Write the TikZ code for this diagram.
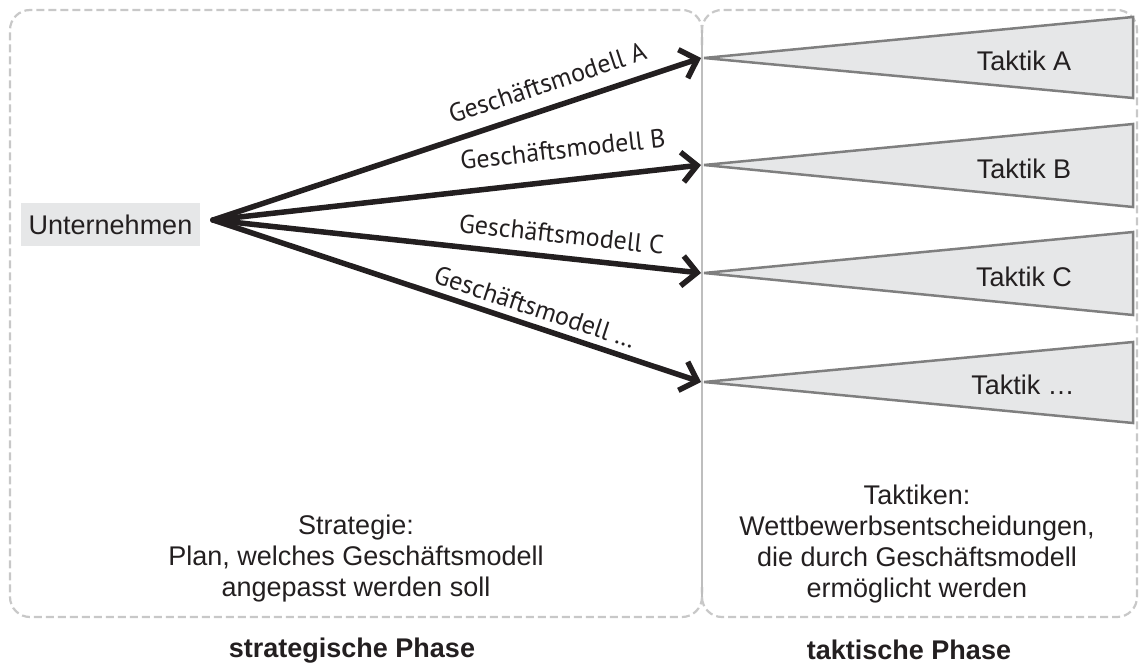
\documentclass[tikz,border=0pt]{standalone}
\usepackage{fontspec}
\setmainfont{Liberation Sans}
\newfontfamily\labfont{PT Sans}
\usetikzlibrary{arrows.meta}
\definecolor{boxgray}{HTML}{C8C8C8}
\definecolor{divgray}{HTML}{BEBEBE}
\definecolor{trifill}{HTML}{E6E7E8}
\definecolor{tristroke}{HTML}{7F7F7F}
\definecolor{txt}{HTML}{231F20}
\begin{document}
\begin{tikzpicture}[x=1pt,y=-1pt,
  phasebox/.style={draw=boxgray, line width=2.2pt, dash pattern=on 8pt off 4pt, rounded corners=20pt},
  divider/.style={draw=divgray, line width=2pt},
  tactic/.style={draw=tristroke, fill=trifill, line width=2.5pt, line join=miter},
  bm/.style={-{Straight Barb[length=15pt,width=30pt]}, line width=5.5pt, line cap=round, line join=round, draw=txt},
  bmlabel/.style={font=\labfont\fontsize{26}{30}\selectfont, text=txt, sloped, inner sep=0pt},
  plaintext/.style={font=\fontsize{27}{31}\selectfont, text=txt, align=center, inner sep=0pt},
  tlabel/.style={font=\fontsize{27}{31}\selectfont, text=txt, anchor=base, inner sep=0pt},
  phase/.style={font=\bfseries\fontsize{27}{31}\selectfont, text=txt, anchor=base, inner sep=0pt},
  firm/.style={fill=trifill, minimum width=179pt, minimum height=43pt, inner sep=0pt, font=\fontsize{27}{31}\selectfont, text=txt},
]
\useasboundingbox (0,0) rectangle (1139,664);
% phase boxes
\draw[phasebox] (702,45) |- (10,10) |- (702,617) -- (702,587);
\draw[phasebox] (702,45) |- (1137,10) |- (702,617) -- (702,587);
\draw[divider] (702,30) -- (702,597);
% tactic triangles
\coordinate (A0) at (704,58);
\coordinate (B0) at (704,165);
\coordinate (C0) at (704,273);
\coordinate (D0) at (704,382);
\draw[tactic] (A0) -- (1133,17) -- (1133,98) -- cycle;
\draw[tactic] (B0) -- (1133,124) -- (1133,207) -- cycle;
\draw[tactic] (C0) -- (1133,232) -- (1133,315) -- cycle;
\draw[tactic] (D0) -- (1133,342) -- (1133,423) -- cycle;
\node[tlabel] (tA) at (1024,70) {Taktik A};
\node[tlabel] (tB) at (1024,178) {Taktik B};
\node[tlabel] (tC) at (1024,286) {Taktik C};
\node[tlabel] (tD) at (1023,394) {Taktik …};
% company
\node[firm] (firm) at (110.5,224.5) {Unternehmen};
\coordinate (src) at (213,220);
% business model arrows
\draw[bm] (src) -- node[bmlabel, pos=0.701, above=12.7pt] {Geschäftsmodell A} ([xshift=-3pt]A0);
\draw[bm] (src) -- node[bmlabel, pos=0.724, above=19pt] {Geschäftsmodell B} ([xshift=-3pt]B0);
\draw[bm] (src) -- node[bmlabel, pos=0.709, above=11.5pt] {Geschäftsmodell C} ([xshift=-3pt]C0);
\draw[bm] (src) -- node[bmlabel, pos=0.648, above=6.5pt] {Geschäftsmodell …} ([xshift=-3pt]D0);
% descriptions
\node[plaintext] (strat) at (356,558.6) {Strategie:\\Plan, welches Geschäftsmodell\\angepasst werden soll};
\node[plaintext] (takt) at (917,544.5) {Taktiken:\\Wettbewerbsentscheidungen,\\die durch Geschäftsmodell\\ermöglicht werden};
\node[phase] (sp) at (352,657) {strategische Phase};
\node[phase] (tp) at (909,659) {taktische Phase};
\end{tikzpicture}
\end{document}
